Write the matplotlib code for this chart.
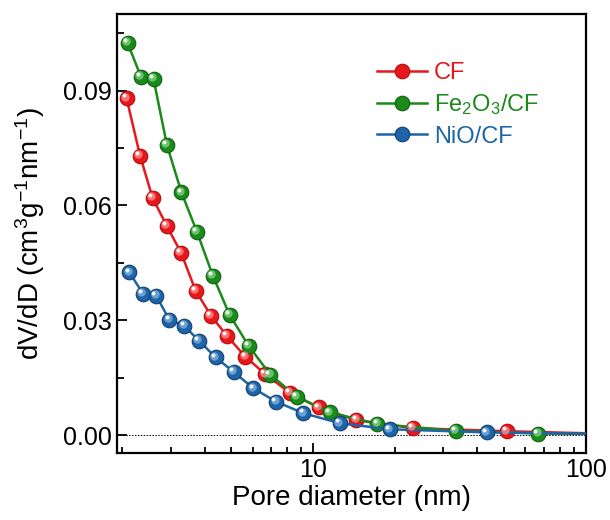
import numpy as np
import matplotlib
matplotlib.use("Agg")
import matplotlib.pyplot as plt
import matplotlib.transforms as mtransforms
from matplotlib.ticker import FixedLocator, MultipleLocator, NullFormatter

plt.rcParams['font.family'] = ['Liberation Sans', 'DejaVu Sans']
plt.rcParams['mathtext.fontset'] = 'custom'
plt.rcParams['mathtext.rm'] = 'Liberation Sans'
plt.rcParams['mathtext.it'] = 'Liberation Sans'
plt.rcParams['mathtext.default'] = 'regular'

# ---- data ----
cf_x = [2.07, 2.32, 2.58, 2.91, 3.28, 3.71, 4.22, 4.83, 5.64, 6.67, 8.19, 10.46, 14.4, 23.2, 51.2, 140]
cf_y = [0.0880, 0.0730, 0.0619, 0.0546, 0.0476, 0.0377, 0.0312, 0.0259, 0.0205, 0.0159, 0.0111, 0.0072, 0.0039, 0.0018, 0.0010, 0.0002]

fe_x = [2.09, 2.34, 2.60, 2.91, 3.29, 3.75, 4.29, 4.94, 5.80, 6.96, 8.71, 11.5, 17.2, 33.3, 66.8, 140]
fe_y = [0.1024, 0.0935, 0.0930, 0.0758, 0.0634, 0.0531, 0.0416, 0.0314, 0.0233, 0.0158, 0.0100, 0.0059, 0.0029, 0.0011, 0.0004, 0.0002]

ni_x = [2.12, 2.38, 2.66, 2.97, 3.37, 3.82, 4.39, 5.11, 6.04, 7.32, 9.21, 12.5, 19.1, 43.3, 140]
ni_y = [0.0425, 0.0369, 0.0364, 0.0301, 0.0285, 0.0246, 0.0203, 0.0165, 0.0122, 0.0087, 0.0057, 0.0031, 0.0015, 0.0007, 0.0002]

series = [
    ("CF", cf_x, cf_y, "#e8171c", "#b00d10", "#ff8a8a"),
    ("Fe$_2$O$_3$/CF", fe_x, fe_y, "#1a8a1a", "#0f5f0f", "#7fd27f"),
    ("NiO/CF", ni_x, ni_y, "#1d64a8", "#113f70", "#7fb0e0"),
]

fig = plt.figure(figsize=(6.1, 5.2), dpi=100)
ax = fig.add_axes([0.1918, 0.1288, 0.7689, 0.8443])

ax.axhline(0, color='black', lw=0.7, ls=(0, (1.5, 1.5)), zorder=1)

handles = []
for name, xs, ys, c, ec, lc in series:
    h, = ax.plot(xs, ys, '-', color=c, lw=1.8, marker='o', ms=10.5,
                 mfc=c, mec=ec, mew=0.8, label=name, zorder=3)
    handles.append(h)
    off1 = mtransforms.ScaledTranslation(-1.2/72, 1.2/72, fig.dpi_scale_trans)
    ax.plot(xs, ys, 'o', ms=6, mfc=lc, mec='none', alpha=0.8,
            transform=ax.transData + off1, zorder=4)
    off2 = mtransforms.ScaledTranslation(-2.0/72, 2.0/72, fig.dpi_scale_trans)
    ax.plot(xs, ys, 'o', ms=2.8, mfc='white', mec='none', alpha=0.95,
            transform=ax.transData + off2, zorder=5)

ax.set_xscale('log')
ax.set_xlim(1.91, 100)
ax.set_ylim(-0.0047, 0.110)

ax.xaxis.set_major_locator(FixedLocator([10, 100]))
ax.set_xticklabels(['10', '100'])
ax.xaxis.set_minor_locator(FixedLocator([2, 3, 4, 5, 6, 7, 8, 9, 20, 30, 40, 50, 60, 70, 80, 90]))
ax.xaxis.set_minor_formatter(NullFormatter())
ax.yaxis.set_major_locator(FixedLocator([0.0, 0.03, 0.06, 0.09]))
ax.set_yticklabels(['0.00', '0.03', '0.06', '0.09'])
ax.yaxis.set_minor_locator(MultipleLocator(0.015))

ax.tick_params(which='both', direction='in', top=False, right=False, labelsize=18, width=1.3)
ax.tick_params(which='major', length=7)
ax.tick_params(which='minor', length=5)
ax.tick_params(axis='x', which='minor', length=4)
for s in ax.spines.values():
    s.set_linewidth(1.6)

ax.set_xlabel('Pore diameter (nm)', fontsize=20, labelpad=2)
ax.set_ylabel('dV/dD (cm$^{3}$g$^{-1}$nm$^{-1}$)', fontsize=20, labelpad=12)

leg = ax.legend(handles=handles, loc='upper left', bbox_to_anchor=(0.52, 0.928),
                frameon=False, fontsize=17, handlelength=2.1, handletextpad=0.3,
                labelspacing=0.35, borderpad=0.2)
for t, (_, _, _, c, _, _) in zip(leg.get_texts(), series):
    t.set_color(c)

fig.savefig('out.png', dpi=100)
